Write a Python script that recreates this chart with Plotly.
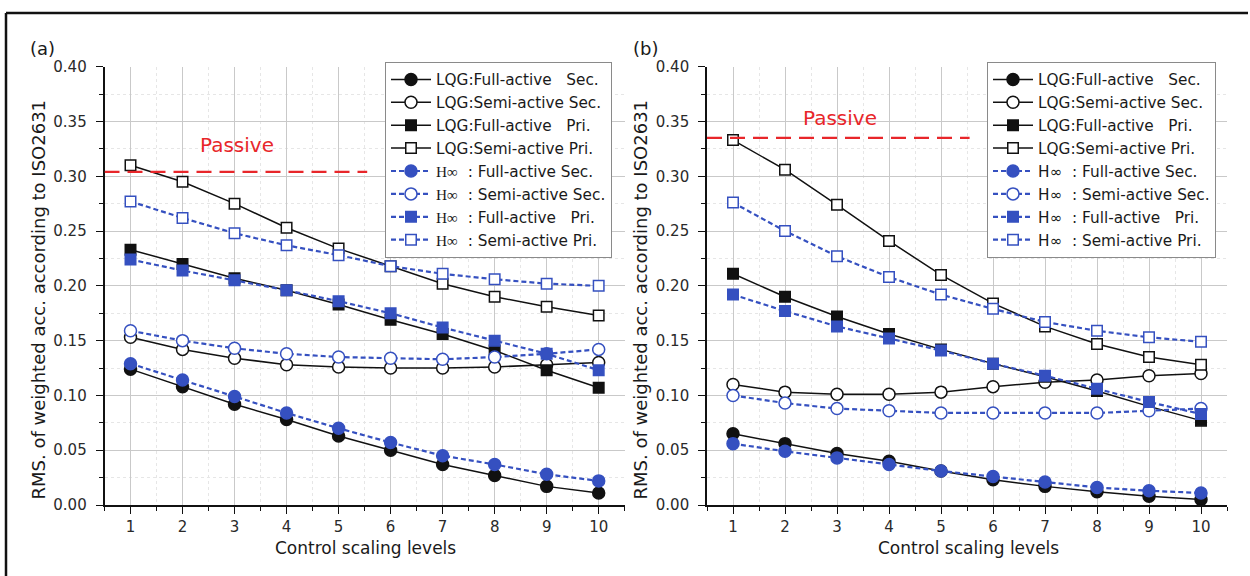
import plotly.graph_objects as go

W, H = 1250, 576

levels = [1, 2, 3, 4, 5, 6, 7, 8, 9, 10]

# Panel (a)
a_lqg_full_sec = [0.124, 0.108, 0.092, 0.078, 0.063, 0.050, 0.037, 0.027, 0.017, 0.011]
a_lqg_semi_sec = [0.153, 0.142, 0.134, 0.128, 0.126, 0.125, 0.125, 0.126, 0.128, 0.130]
a_lqg_full_pri = [0.233, 0.220, 0.207, 0.196, 0.183, 0.169, 0.156, 0.141, 0.123, 0.107]
a_lqg_semi_pri = [0.310, 0.295, 0.275, 0.253, 0.234, 0.218, 0.202, 0.190, 0.181, 0.173]
a_hinf_full_sec = [0.129, 0.114, 0.099, 0.084, 0.070, 0.057, 0.045, 0.037, 0.028, 0.022]
a_hinf_semi_sec = [0.159, 0.150, 0.143, 0.138, 0.135, 0.134, 0.133, 0.135, 0.138, 0.142]
a_hinf_full_pri = [0.224, 0.214, 0.205, 0.196, 0.186, 0.175, 0.162, 0.150, 0.138, 0.123]
a_hinf_semi_pri = [0.277, 0.262, 0.248, 0.237, 0.228, 0.218, 0.211, 0.206, 0.202, 0.200]
a_passive = 0.304
a_passive_label_y = 0.329

# Panel (b)
b_lqg_full_sec = [0.065, 0.056, 0.047, 0.040, 0.031, 0.023, 0.017, 0.012, 0.008, 0.005]
b_lqg_semi_sec = [0.110, 0.103, 0.101, 0.101, 0.103, 0.108, 0.112, 0.114, 0.118, 0.120]
b_lqg_full_pri = [0.211, 0.190, 0.172, 0.156, 0.142, 0.129, 0.117, 0.104, 0.090, 0.077]
b_lqg_semi_pri = [0.333, 0.306, 0.274, 0.241, 0.210, 0.184, 0.163, 0.147, 0.135, 0.128]
b_hinf_full_sec = [0.056, 0.049, 0.043, 0.037, 0.031, 0.026, 0.021, 0.016, 0.013, 0.011]
b_hinf_semi_sec = [0.100, 0.093, 0.088, 0.086, 0.084, 0.084, 0.084, 0.084, 0.086, 0.088]
b_hinf_full_pri = [0.192, 0.177, 0.163, 0.152, 0.141, 0.129, 0.118, 0.106, 0.094, 0.083]
b_hinf_semi_pri = [0.276, 0.250, 0.227, 0.208, 0.192, 0.179, 0.167, 0.159, 0.153, 0.149]
b_passive = 0.335
b_passive_label_y = 0.353

NB = "\u00a0"
H_SERIF = "<span style=\"font-family:'Liberation Serif', serif\">H∞</span>"
H_SANS = "H∞"


def legend_names(hinf):
    return [
        "LQG:Full-active" + NB * 3 + "Sec.",
        "LQG:Semi-active Sec.",
        "LQG:Full-active" + NB * 3 + "Pri.",
        "LQG:Semi-active Pri.",
        hinf + NB * 2 + ": Full-active Sec.",
        hinf + NB * 2 + ": Semi-active Sec.",
        hinf + NB * 2 + ": Full-active" + NB * 3 + "Pri.",
        hinf + NB * 2 + ": Semi-active Pri.",
    ]


BLACK = "#111111"
BLUE = "#3550c0"
RED = "#e8262a"
FONT = "DejaVu Sans, Liberation Sans, sans-serif"

styles = [
    # (color, dash, symbol, filled)
    (BLACK, "solid", "circle", True),
    (BLACK, "solid", "circle", False),
    (BLACK, "solid", "square", True),
    (BLACK, "solid", "square", False),
    (BLUE, "5px,3px", "circle", True),
    (BLUE, "5px,3px", "circle", False),
    (BLUE, "5px,3px", "square", True),
    (BLUE, "5px,3px", "square", False),
]

panels = [
    ("x", "y", "legend", legend_names(H_SERIF),
     [a_lqg_full_sec, a_lqg_semi_sec, a_lqg_full_pri, a_lqg_semi_pri,
      a_hinf_full_sec, a_hinf_semi_sec, a_hinf_full_pri, a_hinf_semi_pri]),
    ("x2", "y2", "legend2", legend_names(H_SANS),
     [b_lqg_full_sec, b_lqg_semi_sec, b_lqg_full_pri, b_lqg_semi_pri,
      b_hinf_full_sec, b_hinf_semi_sec, b_hinf_full_pri, b_hinf_semi_pri]),
]

fig = go.Figure()
for xa, ya, leg, names, series in panels:
    for name, vals, (col, dash, sym, filled) in zip(names, series, styles):
        is_circle = sym == "circle"
        fig.add_trace(go.Scatter(
            x=levels, y=vals, name=name, xaxis=xa, yaxis=ya, legend=leg,
            mode="lines+markers",
            line=dict(color=col, width=1.5 if col == BLACK else 2.2, dash=dash),
            marker=dict(symbol=sym, size=12 if is_circle else 10.5,
                        color=col if filled else "white",
                        line=dict(color=col, width=1.5)),
        ))


def px_x(p):
    return p / W


def px_y(p):
    return 1 - p / H


ydom = [px_y(505), px_y(66.7)]
xdom_a = [px_x(104.5), px_x(624.7)]
xdom_b = [px_x(707), px_x(1227)]

axis_common = dict(
    showline=True, linecolor="#111", linewidth=1.6, mirror=False,
    ticks="outside", ticklen=7, tickwidth=1.3, tickcolor="#111",
    showgrid=True, gridcolor="#c9c9c9", gridwidth=1,
    zeroline=False, automargin=False,
    tickfont=dict(family=FONT, size=15, color="#2a2a2a"),
)

xaxis_cfg = dict(axis_common, range=[0.5, 10.5], tickmode="linear", tick0=1, dtick=1,
                 minor=dict(tick0=0.5, dtick=0.5, ticks="outside", ticklen=4, tickcolor="#111",
                            showgrid=True, gridcolor="#e6e6e6", griddash="dot"))
yaxis_cfg = dict(axis_common, range=[0, 0.4], tickmode="linear", tick0=0, dtick=0.05,
                 tickformat=".2f", ticklabelstandoff=6,
                 minor=dict(tick0=0, dtick=0.025, ticks="outside", ticklen=4, tickcolor="#111",
                            showgrid=True, gridcolor="#e6e6e6", griddash="dot"))

legend_common = dict(
    bgcolor="white", bordercolor="#8a8a8a", borderwidth=1,
    font=dict(family=FONT, size=15.3, color="#1a1a1a"),
    xanchor="left", yanchor="top", tracegroupgap=0, itemwidth=40,
)

fig.update_layout(
    width=W, height=H,
    template="none",
    paper_bgcolor="white", plot_bgcolor="white",
    margin=dict(l=0, r=0, t=0, b=0, pad=0),
    showlegend=True,
    xaxis=dict(xaxis_cfg, domain=xdom_a, anchor="y"),
    yaxis=dict(yaxis_cfg, domain=ydom, anchor="x"),
    xaxis2=dict(xaxis_cfg, domain=xdom_b, anchor="y2"),
    yaxis2=dict(yaxis_cfg, domain=ydom, anchor="x2"),
    legend=dict(legend_common, x=px_x(385), y=px_y(62)),
    legend2=dict(legend_common, x=px_x(987), y=px_y(62)),
)

# Passive reference lines
for xr, yr, val in [("x", "y", a_passive), ("x2", "y2", b_passive)]:
    fig.add_shape(type="line", xref=xr, yref=yr, x0=0.5, x1=5.55, y0=val, y1=val,
                  line=dict(color=RED, width=2.4, dash="15px,8px"), layer="above")

annotations = []
for xr, yr, ly, lab, xc in [("x", "y", a_passive_label_y, "(a)", 28),
                            ("x2", "y2", b_passive_label_y, "(b)", 631)]:
    annotations.append(dict(text="Passive", xref=xr, yref=yr, x=3.05, y=ly,
                            showarrow=False, font=dict(family=FONT, size=20, color=RED),
                            xanchor="center", yanchor="middle"))
    annotations.append(dict(text=lab, xref="paper", yref="paper", x=px_x(xc), y=px_y(48),
                            showarrow=False, font=dict(family=FONT, size=18, color="#1a1a1a"),
                            xanchor="left", yanchor="middle"))

for xc, yc in [(37.5, 300), (639.5, 300)]:
    annotations.append(dict(text="RMS. of weighted acc. according to ISO2631", textangle=-90,
                            xref="paper", yref="paper", x=px_x(xc), y=px_y(yc),
                            showarrow=False, font=dict(family=FONT, size=18, color="#1a1a1a"),
                            xanchor="center", yanchor="middle"))
for xc in [365, 968]:
    annotations.append(dict(text="Control scaling levels", xref="paper", yref="paper",
                            x=px_x(xc), y=px_y(548), showarrow=False,
                            font=dict(family=FONT, size=17, color="#1a1a1a"),
                            xanchor="center", yanchor="middle"))
fig.update_layout(annotations=annotations)

# Outer frame
frame = dict(color="#111", width=2.5)
fig.add_shape(type="line", xref="paper", yref="paper", x0=px_x(6), x1=px_x(1248),
              y0=px_y(13), y1=px_y(13), line=frame)
fig.add_shape(type="line", xref="paper", yref="paper", x0=px_x(6), x1=px_x(6),
              y0=px_y(13), y1=0, line=frame)

fig.write_html("out.html", config={"displayModeBar": False},
               post_script="document.body.style.margin='0';document.body.style.padding='0';")
